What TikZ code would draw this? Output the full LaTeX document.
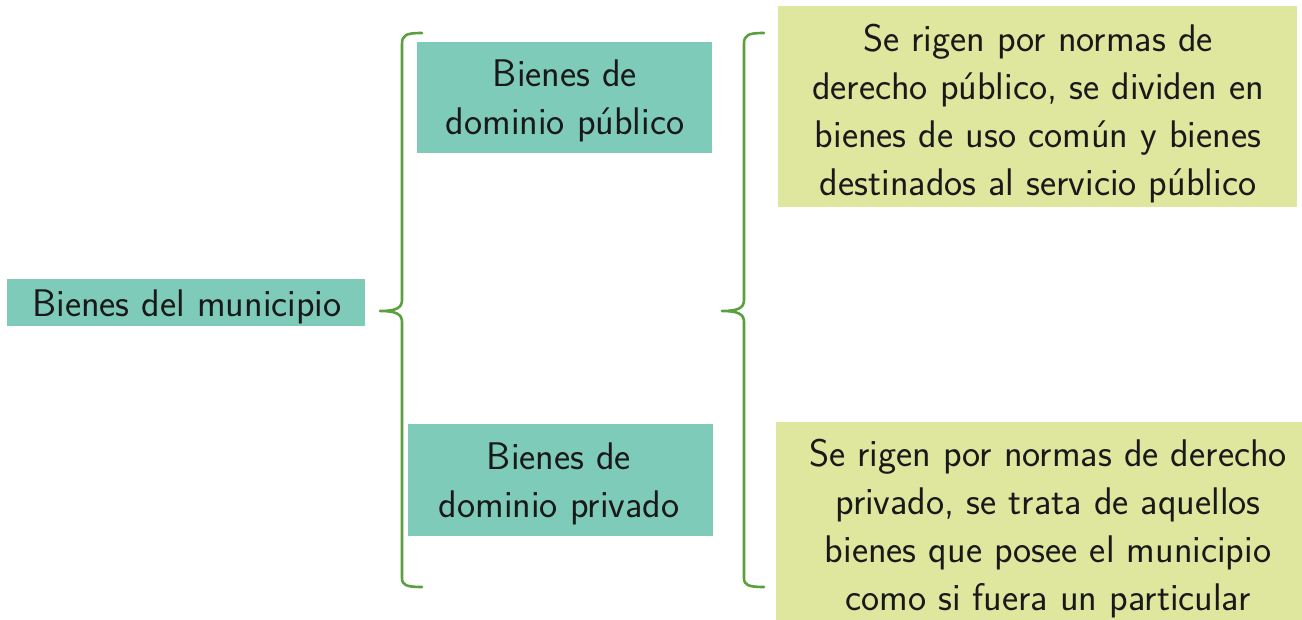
\documentclass[tikz,border=0pt]{standalone}
\usepackage{fontspec}
\setsansfont{Latin Modern Sans}
\definecolor{tealbox}{HTML}{7FCBB9}
\definecolor{yelbox}{HTML}{DFE69D}
\definecolor{bracegreen}{HTML}{5BA03E}
\begin{document}
\begin{tikzpicture}[x=1pt,y=-1pt,
  box/.style={inner sep=0pt, draw=none, anchor=north west},
  txt/.style={font=\sffamily\fontsize{38.5}{48}\selectfont, align=center, inner sep=0pt, anchor=base, text=black!90},
  brace/.style={draw=bracegreen, line width=2.6pt, line cap=round, line join=round}]
\useasboundingbox (0,0) rectangle (1302,620);
% boxes
\node[box, fill=tealbox, minimum width=358pt, minimum height=47pt] (munibox) at (7,279) {};
\node[box, fill=tealbox, minimum width=295pt, minimum height=111pt] (pubbox) at (417,42) {};
\node[box, fill=tealbox, minimum width=305pt, minimum height=112pt] (privbox) at (408,424) {};
\node[box, fill=yelbox, minimum width=519pt, minimum height=201pt] (pubdesc) at (778,6) {};
\node[box, fill=yelbox, minimum width=530pt, minimum height=200pt] (privdesc) at (776,422) {};
% texts (anchor base = baseline of last line)
\node[txt] (muni) at (187,317) {Bienes del municipio};
\node[txt] (pub) at (565,135) {Bienes de\\dominio público};
\node[txt] (priv) at (559,517) {Bienes de\\dominio privado};
\node[txt] (pubt) at (1038,196) {Se rigen por normas de\\derecho público, se dividen en\\bienes de uso común y bienes\\destinados al servicio público};
\node[txt] (privt) at (1048,610) {Se rigen por normas de derecho\\privado, se trata de aquellos\\bienes que posee el municipio\\como si fuera un particular};
% braces
\coordinate (b1t) at (422,33);
\coordinate (b1m) at (380,311);
\coordinate (b1b) at (422,587);
\draw[brace] (b1t) .. controls (406,33) and (402,35) .. (402,44) -- (402,300)
  .. controls (402,308) and (396,311) .. (b1m)
  .. controls (396,311) and (402,314) .. (402,322) -- (402,578)
  .. controls (402,585) and (406,587) .. (b1b);
\coordinate (b2t) at (764,33);
\coordinate (b2m) at (722,311);
\coordinate (b2b) at (764,587);
\draw[brace] (b2t) .. controls (748,33) and (744,35) .. (744,44) -- (744,300)
  .. controls (744,308) and (738,311) .. (b2m)
  .. controls (738,311) and (744,314) .. (744,322) -- (744,578)
  .. controls (744,585) and (748,587) .. (b2b);
\end{tikzpicture}
\end{document}
